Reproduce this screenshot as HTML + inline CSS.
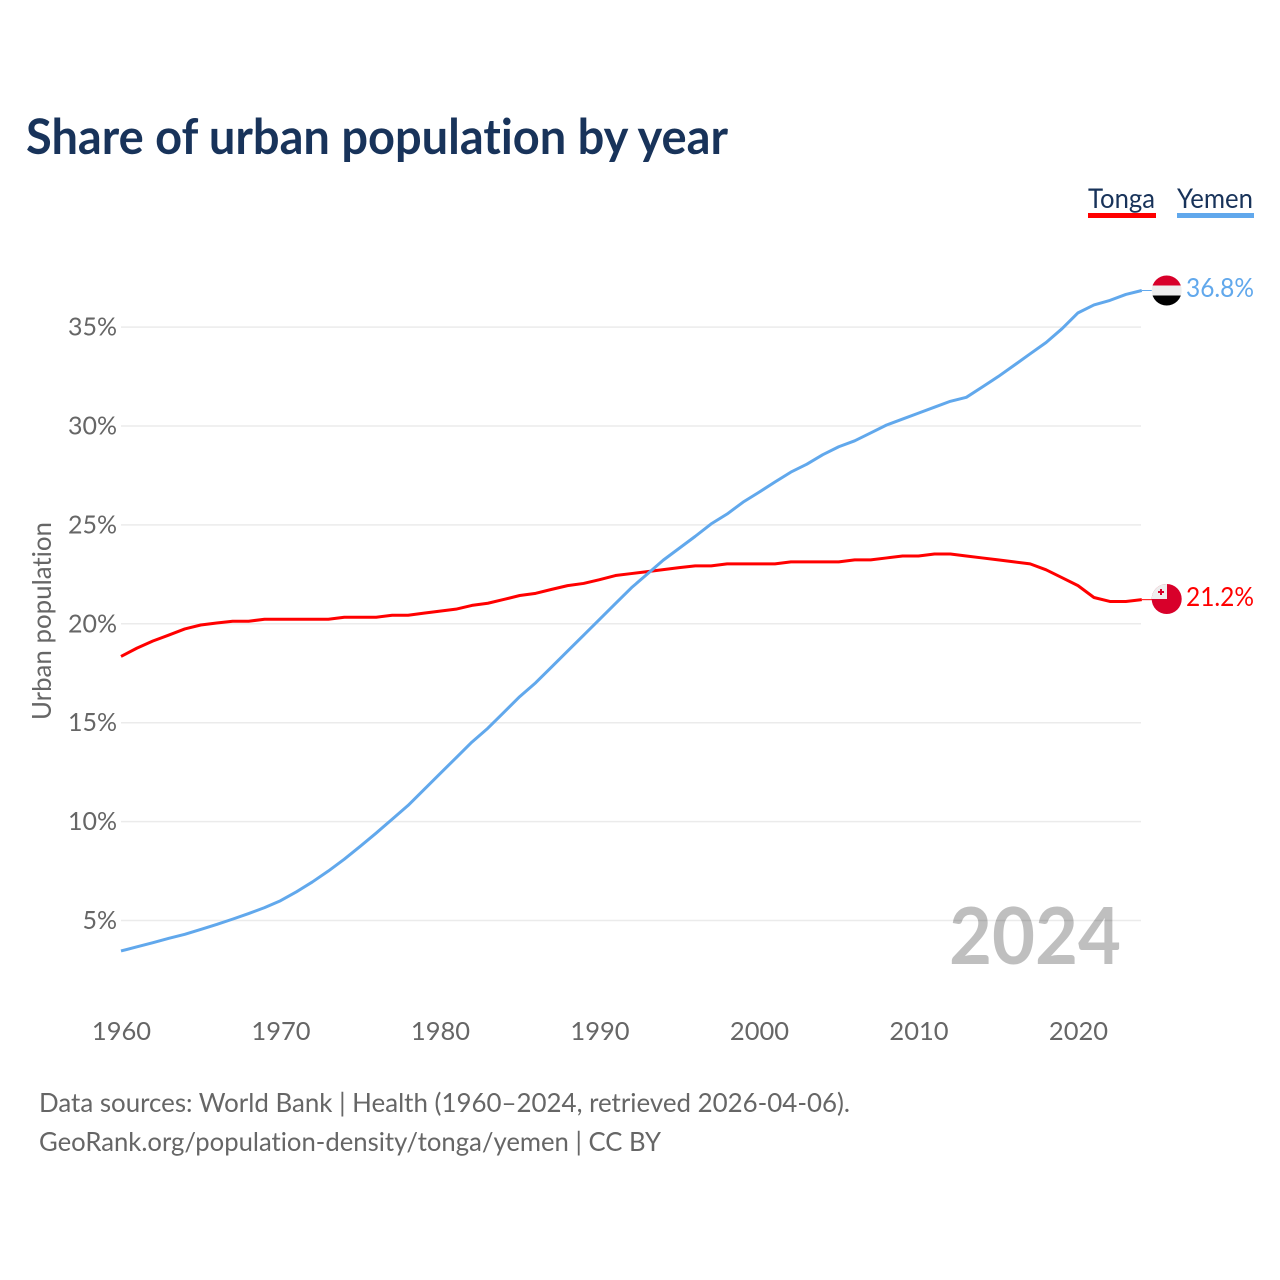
<!DOCTYPE html>
<html lang="en">
<head>
<meta charset="utf-8">
<title>Share of urban population by year</title>
<style>
html,body{margin:0;padding:0;background:#fff;width:1280px;height:1280px;overflow:hidden}
svg{display:block}
text{font-family:"Lato","Liberation Sans",sans-serif;font-variant-ligatures:none;font-feature-settings:"liga" 0}
</style>
</head>
<body>
<svg id="chart" width="1280" height="1280" viewBox="0 0 1280 1280" xmlns="http://www.w3.org/2000/svg">
  <rect width="1280" height="1280" fill="#ffffff"/>
  <text x="26" y="154" font-size="49" font-weight="700" fill="#18335a" textLength="702" lengthAdjust="spacingAndGlyphs">Share of urban population by year</text>

  <g>
    <g>
      <text x="1088" y="208" font-size="27" fill="#18335a" textLength="67" lengthAdjust="spacingAndGlyphs">Tonga</text>
      <rect x="1088" y="213" width="68" height="5" fill="#ff0000"/>
    </g>
    <g>
      <text x="1177" y="208" font-size="27" fill="#18335a" textLength="76" lengthAdjust="spacingAndGlyphs">Yemen</text>
      <rect x="1177" y="213" width="77" height="5" fill="#61a8ec"/>
    </g>
  </g>

  <g id="grid"></g>
  <g id="yticks"></g>
  <g id="xticks"></g>

  <text transform="translate(51,720) rotate(-90)" font-size="26" fill="#666666" textLength="198" lengthAdjust="spacingAndGlyphs">Urban population</text>

  <text x="949" y="964" font-size="79" font-weight="700" fill="#000000" fill-opacity="0.25" textLength="172" lengthAdjust="spacingAndGlyphs">2024</text>

  <g id="series"></g>

  <g>
    <clipPath id="clip-yemen"><circle cx="1166.7" cy="290.5" r="15"/></clipPath>
    <g clip-path="url(#clip-yemen)">
      <rect x="1151" y="275" width="32" height="10.5" fill="#d8002a"/>
      <rect x="1151" y="285.5" width="32" height="10" fill="#eeeeee"/>
      <rect x="1151" y="295.5" width="32" height="11" fill="#000000"/>
    </g>
  </g>
  <g>
    <clipPath id="clip-tonga"><circle cx="1166.7" cy="599" r="15"/></clipPath>
    <g clip-path="url(#clip-tonga)">
      <rect x="1151" y="583" width="32" height="32" fill="#d8002a"/>
      <rect x="1151" y="583" width="16" height="16" fill="#eeeeee"/>
      <rect x="1158" y="591" width="6" height="2" fill="#d8002a"/>
      <rect x="1160" y="589" width="2" height="6" fill="#d8002a"/>
    </g>
  </g>

  <text x="1186" y="297" font-size="26" fill="#61a8ec" textLength="68" lengthAdjust="spacingAndGlyphs">36.8%</text>
  <text x="1186" y="606" font-size="26" fill="#ff0000" textLength="68" lengthAdjust="spacingAndGlyphs">21.2%</text>

  <text x="39" y="1112" font-size="26.5" fill="#666666" textLength="811" lengthAdjust="spacingAndGlyphs">Data sources: World Bank | Health (1960–2024, retrieved 2026-04-06).</text>
  <text x="39" y="1151" font-size="26.5" fill="#666666" textLength="622" lengthAdjust="spacingAndGlyphs">GeoRank.org/population-density/tonga/yemen | CC BY</text>
</svg>
<script>
const startYear = 1960;
const yTicks = [5, 10, 15, 20, 25, 30, 35];
const xTicks = [1960, 1970, 1980, 1990, 2000, 2010, 2020];
const tonga = [18.35,18.77,19.13,19.43,19.74,19.94,20.04,20.13,20.13,20.23,20.23,20.23,20.23,20.23,20.33,20.33,20.33,20.43,20.43,20.54,20.64,20.74,20.93,21.04,21.23,21.43,21.54,21.74,21.93,22.04,22.23,22.44,22.54,22.64,22.74,22.84,22.93,22.93,23.03,23.03,23.03,23.03,23.13,23.13,23.13,23.13,23.23,23.23,23.33,23.43,23.43,23.53,23.53,23.43,23.33,23.23,23.13,23.03,22.73,22.33,21.93,21.33,21.13,21.13,21.22];
const yemen = [3.46,3.67,3.88,4.1,4.3,4.55,4.8,5.07,5.35,5.65,6.0,6.45,6.95,7.5,8.1,8.75,9.42,10.12,10.82,11.62,12.42,13.22,14.02,14.72,15.52,16.32,17.02,17.82,18.62,19.42,20.22,21.02,21.82,22.52,23.22,23.82,24.42,25.05,25.55,26.15,26.65,27.17,27.67,28.07,28.55,28.95,29.25,29.65,30.05,30.35,30.65,30.95,31.25,31.45,31.97,32.5,33.07,33.65,34.22,34.92,35.72,36.12,36.35,36.65,36.85];

const NS = 'http://www.w3.org/2000/svg';
const xScale = function (year) { return 121 + (year - startYear) * 15.95; };
const yScale = function (v) { return 1019.4 - v * 19.78; };

const gridG = document.getElementById('grid');
const yG = document.getElementById('yticks');
const xG = document.getElementById('xticks');
const seriesG = document.getElementById('series');

yTicks.forEach(function (v) {
  const line = document.createElementNS(NS, 'line');
  
  
  line.setAttribute('x1', 121);
  line.setAttribute('x2', 1141);
  line.setAttribute('y1', yScale(v));
  line.setAttribute('y2', yScale(v));
  line.setAttribute('stroke', '#ebebeb');
  line.setAttribute('stroke-width', '1.5');
  gridG.appendChild(line);

  const t = document.createElementNS(NS, 'text');
  
  
  t.setAttribute('x', 117);
  t.setAttribute('y', yScale(v) + 8.5);
  t.setAttribute('text-anchor', 'end');
  t.setAttribute('font-size', '25');
  t.setAttribute('fill', '#666666');
  t.textContent = v + '%';
  yG.appendChild(t);
});

xTicks.forEach(function (yr) {
  const t = document.createElementNS(NS, 'text');
  
  
  t.setAttribute('x', xScale(yr) + 0.5);
  t.setAttribute('y', 1040);
  t.setAttribute('text-anchor', 'middle');
  t.setAttribute('font-size', '25.5');
  t.setAttribute('fill', '#666666');
  t.textContent = yr;
  xG.appendChild(t);
});

function drawSeries(values, color, name) {
  const last = values[values.length - 1];
  const pts = values.map(function (v, i) {
    return xScale(startYear + i).toFixed(2) + ',' + yScale(v).toFixed(2);
  }).join(' ');
  const poly = document.createElementNS(NS, 'polyline');
  
  
  poly.setAttribute('points', pts);
  poly.setAttribute('fill', 'none');
  poly.setAttribute('stroke', color);
  poly.setAttribute('stroke-width', '3');
  poly.setAttribute('stroke-linejoin', 'round');
  seriesG.appendChild(poly);

  const conn = document.createElementNS(NS, 'line');
  
  
  conn.setAttribute('x1', xScale(startYear + values.length - 1));
  conn.setAttribute('x2', 1153);
  conn.setAttribute('y1', yScale(last));
  conn.setAttribute('y2', yScale(last));
  conn.setAttribute('stroke', color);
  conn.setAttribute('stroke-width', '1');
  seriesG.appendChild(conn);
}
drawSeries(tonga, '#ff0000', 'line-tonga');
drawSeries(yemen, '#61a8ec', 'line-yemen');
</script>
</body>
</html>
